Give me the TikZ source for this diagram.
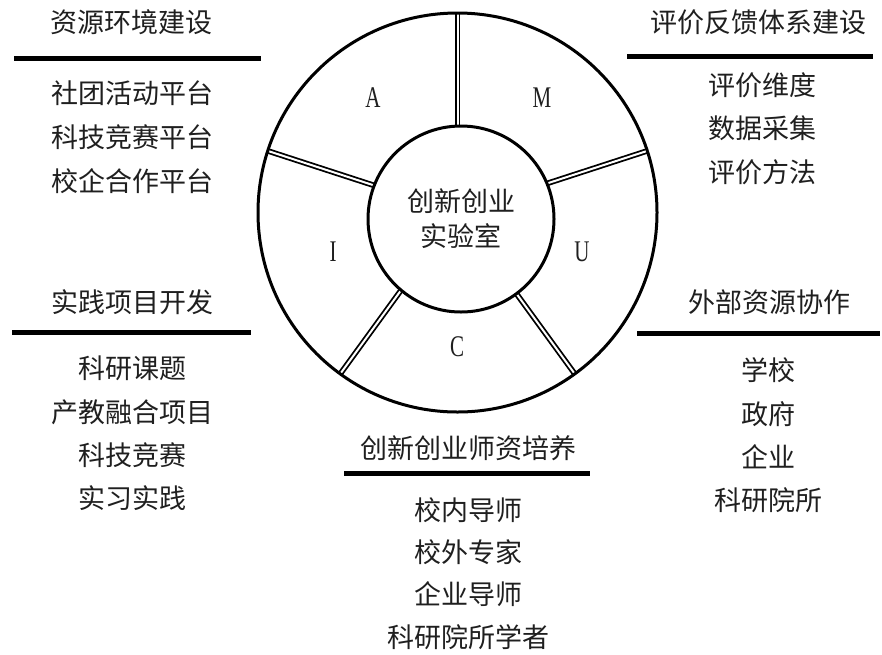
\documentclass[tikz,border=0pt]{standalone}
\usepackage{graphicx}
\usepackage{fontspec}
\newfontfamily\cjk{Noto Sans CJK SC}
\newfontfamily\lat{Liberation Serif}
\begin{document}
\begin{tikzpicture}[x=1pt,y=-1pt,
  txt/.style={font=\cjk\fontsize{27}{32}\selectfont, inner sep=0pt, text=black!88},
  seg/.style={font=\lat\fontsize{30}{32}\selectfont, inner sep=0pt, text=black!88},
  rule/.style={line width=5pt},
  divider/.style={double=white, draw=black, line width=1.8pt, double distance=2pt},
  ringline/.style={draw=black, line width=3pt}]
\useasboundingbox (0,0) rectangle (882,654);

% dividers (drawn first, circles on top)
\coordinate (o1) at (457.5,13);    \coordinate (i1) at (457.5,127.1);
\coordinate (o2) at (647.2,150.9); \coordinate (i2) at (546.6,183.6);
\coordinate (o3) at (574.8,373.9); \coordinate (i3) at (516.9,294.3);
\coordinate (o4) at (340.2,373.9); \coordinate (i4) at (400.6,290.8);
\coordinate (o5) at (267.8,150.9); \coordinate (i5) at (374.6,185.6);
\foreach \k in {1,...,5} { \draw[divider] (i\k) -- (o\k); }

% circles
\node[ringline, circle, minimum size=399pt, inner sep=0pt] (ring) at (457.5,212.5) {};
\node[ringline, circle, minimum size=186pt, inner sep=0pt, txt, align=center,
      font=\cjk\fontsize{27}{35}\selectfont] (core) at (461,219) {创新创业\\实验室};

% segment letters
\node[seg] (sA) at (373,98)  {\scalebox{0.7}[1]{A}};
\node[seg] (sM) at (542,98)  {\scalebox{0.7}[1]{M}};
\node[seg] (sU) at (582,252) {\scalebox{0.7}[1]{U}};
\node[seg] (sC) at (457,347) {\scalebox{0.7}[1]{C}};
\node[seg] (sI) at (333,252) {\scalebox{0.7}[1]{I}};

% top-left block
\node[txt] (h1) at (131,22) {资源环境建设};
\coordinate (h1a) at (14,58); \coordinate (h1b) at (261,58);
\draw[rule] (h1a) -- (h1b);
\node[txt] (a1) at (132,93)  {社团活动平台};
\node[txt] (a2) at (132,137) {科技竞赛平台};
\node[txt] (a3) at (132,181) {校企合作平台};

% top-right block
\node[txt] (h2) at (758,22) {评价反馈体系建设};
\coordinate (h2a) at (627,56); \coordinate (h2b) at (873,56);
\draw[rule] (h2a) -- (h2b);
\node[txt] (b1) at (762,85)  {评价维度};
\node[txt] (b2) at (762,128) {数据采集};
\node[txt] (b3) at (762,172) {评价方法};

% bottom-left block
\node[txt] (h3) at (132,302) {实践项目开发};
\coordinate (h3a) at (12,332); \coordinate (h3b) at (251,332);
\draw[rule] (h3a) -- (h3b);
\node[txt] (c1) at (132,368) {科研课题};
\node[txt] (c2) at (132,412) {产教融合项目};
\node[txt] (c3) at (132,455) {科技竞赛};
\node[txt] (c4) at (132,498) {实习实践};

% bottom-right block
\node[txt] (h4) at (769,302) {外部资源协作};
\coordinate (h4a) at (637,333); \coordinate (h4b) at (880,333);
\draw[rule] (h4a) -- (h4b);
\node[txt] (d1) at (768,370) {学校};
\node[txt] (d2) at (768,414) {政府};
\node[txt] (d3) at (768,457) {企业};
\node[txt] (d4) at (768,500) {科研院所};

% bottom-centre block
\node[txt] (h5) at (468,448) {创新创业师资培养};
\coordinate (h5a) at (344,473); \coordinate (h5b) at (590,473);
\draw[rule] (h5a) -- (h5b);
\node[txt] (e1) at (468,510) {校内导师};
\node[txt] (e2) at (468,552) {校外专家};
\node[txt] (e3) at (468,594) {企业导师};
\node[txt] (e4) at (468,637) {科研院所学者};
\end{tikzpicture}
\end{document}
